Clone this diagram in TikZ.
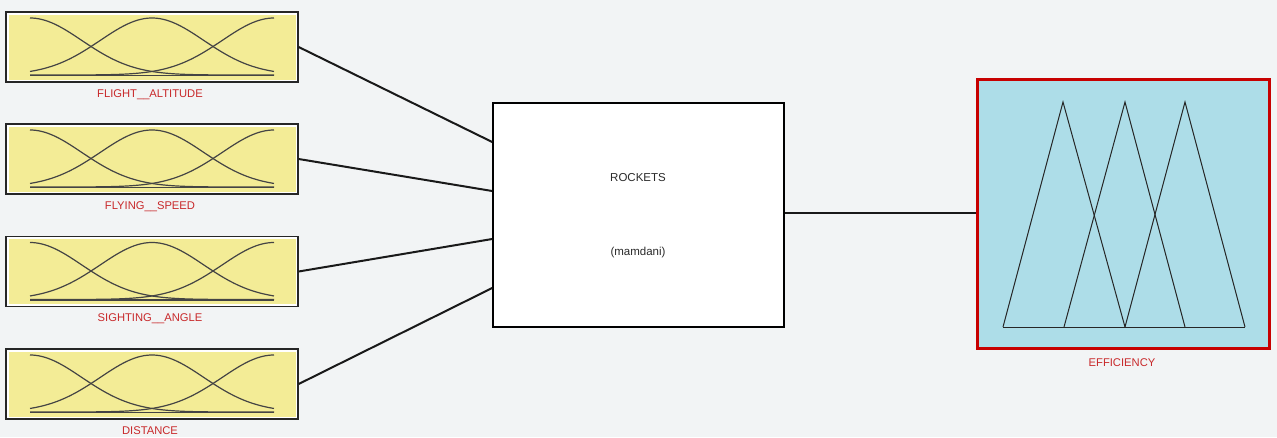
\documentclass[tikz,border=0pt]{standalone}
\usepackage{fontspec}
\setmainfont{Liberation Sans}
\usetikzlibrary{calc}
\definecolor{bgc}{HTML}{F2F4F5}
\definecolor{yel}{HTML}{F3EC96}
\definecolor{blu}{HTML}{ADDDE8}
\definecolor{lab}{HTML}{C8282A}
\definecolor{txt}{HTML}{2A2A2A}
\definecolor{crv}{HTML}{444444}
\tikzset{
  inbox/.style={draw=black!85, line width=1.3pt, fill=white, minimum width=292pt, minimum height=70pt, inner sep=0pt,
    path picture={\fill[yel] ([shift={(2.5pt,2.5pt)}]path picture bounding box.south west) rectangle ([shift={(-2.5pt,-2.5pt)}]path picture bounding box.north east);}},
  lbl/.style={text=lab, font=\fontsize{11.2}{13}\selectfont, inner sep=0pt},
  conn/.style={line width=2pt, black!90},
  mf/.style={crv, line width=1.2pt},
  tri/.style={black!85, line width=1pt, line join=miter},
  fis/.style={draw=black, line width=1.6pt, fill=white, minimum width=291pt, minimum height=224pt, inner sep=0pt},
  outbox/.style={draw=red!78!black, line width=3.5pt, fill=blu, minimum width=292pt, minimum height=269pt, inner sep=0pt},
  ctext/.style={text=txt, font=\fontsize{11.5}{13}\selectfont, inner sep=0pt}
}
\begin{document}
\begin{tikzpicture}[x=1pt, y=-1pt]
\fill[bgc] (0,0) rectangle (1277,437);
\useasboundingbox (0,0) rectangle (1277,437);
% input boxes
\node[inbox] (in1) at (152,47) {};
\node[inbox] (in2) at (152,159) {};
\node[inbox] (in3) at (152,271.5) {};
\node[inbox] (in4) at (152,384) {};
\foreach \n/\cy in {in1/47, in2/159, in3/271.5, in4/384}{
  \foreach \c in {-122,0,122}{
    \draw[mf] plot[domain=-122:122, samples=80, smooth] ({152+\x}, {\cy+28-57*exp(-0.5*((\x-\c)/51.8)^2)});
  }
  \draw[mf] (30,\cy+28.5) -- (274,\cy+28.5);
}
\node[lbl] (l1) at (150,95) {FLIGHT\_\_ALTITUDE};
\node[lbl] (l2) at (150,207) {FLYING\_\_SPEED};
\node[lbl] (l3) at (150,319) {SIGHTING\_\_ANGLE};
\node[lbl] (l4) at (150,431) {DISTANCE};
% FIS box
\node[fis] (rockets) at (638.5,215) {};
\node[ctext] (rt) at (638,178) {ROCKETS};
\node[ctext] (mt) at (638,253) {(mamdani)};
\coordinate (r1) at (rockets.west |- 0,142);
\coordinate (r2) at (rockets.west |- 0,191);
\coordinate (r3) at (rockets.west |- 0,239);
\coordinate (r4) at (rockets.west |- 0,288);
\draw[conn] (in1.east) -- (r1);
\draw[conn] (in2.east) -- (r2);
\draw[conn] (in3.east) -- (r3);
\draw[conn] (in4.east) -- (r4);
% output box
\node[outbox] (out) at (1123.5,214) {};
\coordinate (o1) at (rockets.east |- 0,213);
\coordinate (o2) at (out.west |- 0,213);
\draw[conn] (o1) -- (o2);
\draw[tri] (1003,327) -- (1063,102) -- (1125,327);
\draw[tri] (1064,327) -- (1125,102) -- (1185,327);
\draw[tri] (1125,327) -- (1185,102) -- (1245,327);
\draw[tri] (1003,327) -- (1245,327);
\node[lbl] (l5) at (1122,363) {EFFICIENCY};
\end{tikzpicture}
\end{document}
